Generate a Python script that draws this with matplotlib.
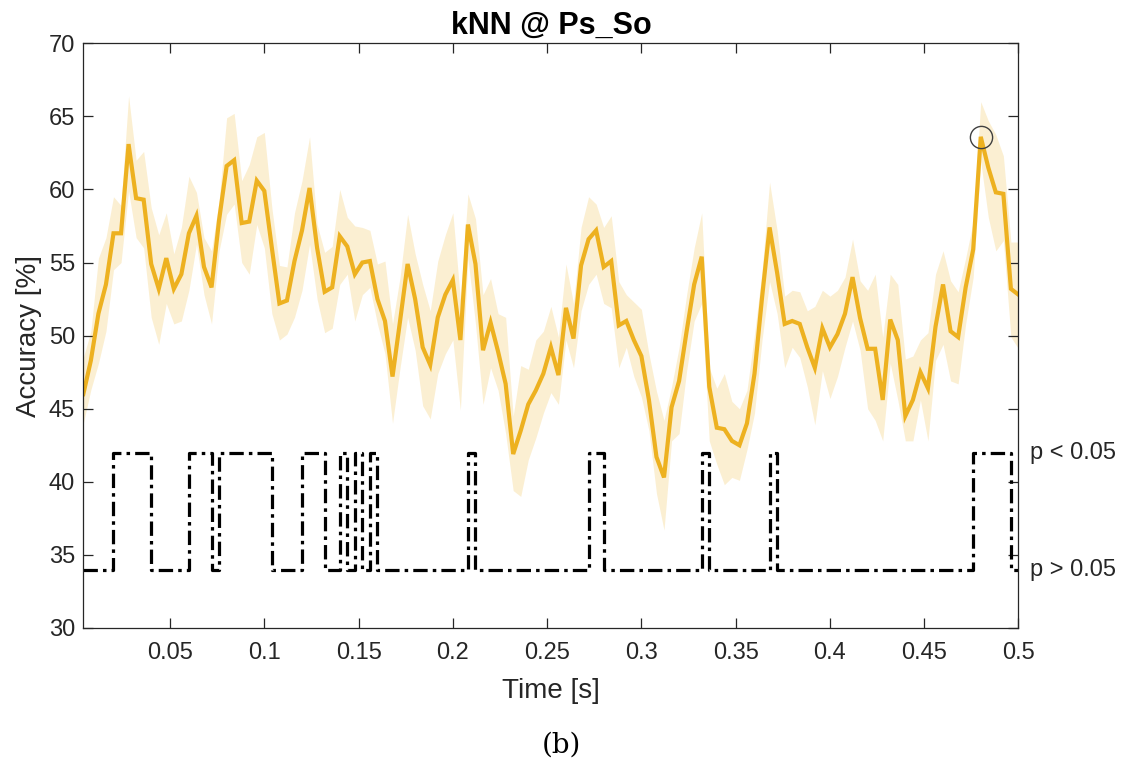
import numpy as np
import matplotlib
matplotlib.use("Agg")
import matplotlib.pyplot as plt

# ---------------- data ----------------
time_s = [0.004 * k for k in range(1, 126)]

acc_mean = [
    46.0, 48.3, 51.5, 53.5, 57.0, 57.0, 63.1, 59.4, 59.3, 54.9,
    53.2, 55.3, 53.2, 54.2, 57.0, 58.2, 54.7, 53.3, 57.9, 61.6,
    62.0, 57.7, 57.8, 60.6, 59.9, 56.0, 52.2, 52.4, 55.1, 57.2,
    60.1, 56.0, 53.0, 53.3, 56.8, 56.1, 54.2, 55.0, 55.1, 52.5,
    51.0, 47.2, 51.0, 54.9, 52.5, 49.2, 48.0, 51.25, 52.8, 53.8,
    49.7, 57.6, 54.9, 49.0, 50.9, 48.9, 46.7, 41.9, 43.5, 45.3,
    46.25, 47.4, 49.2, 47.3, 51.9, 49.8, 54.8, 56.6, 57.2, 54.7,
    55.1, 50.7, 51.0, 49.7, 48.6, 45.6, 41.7, 40.3, 45.1, 46.9,
    50.3, 53.5, 55.4, 46.5, 43.7, 43.6, 42.8, 42.5, 44.0, 47.4,
    52.6, 57.4, 54.3, 50.8, 51.0, 50.8, 49.2, 47.8, 50.5, 49.2,
    50.1, 51.5, 54.0, 51.2, 49.1, 49.1, 45.6, 51.1, 49.7, 44.5,
    45.6, 47.5, 46.4, 50.6, 53.5, 50.3, 49.9, 53.3, 55.9, 63.6,
    61.5, 59.8, 59.7, 53.2, 52.8,
]

acc_upper = [
    48.5, 50.3, 55.3, 56.7, 59.5, 58.9, 66.4, 62.0, 62.6, 58.75,
    56.9, 58.4, 55.6, 57.4, 60.9, 59.8, 56.7, 55.8, 59.2, 64.9,
    65.2, 60.6, 61.7, 63.6, 63.9, 58.75, 54.8, 54.7, 58.4, 60.6,
    63.6, 57.6, 55.7, 56.1, 60.0, 58.1, 57.5, 57.4, 57.2, 54.9,
    55.1, 50.8, 54.0, 58.3, 55.6, 53.5, 51.7, 55.1, 56.9, 58.4,
    52.5, 59.7, 58.0, 52.8, 53.9, 51.5, 51.25, 44.5, 47.95, 47.7,
    49.7, 50.3, 52.0, 49.9, 54.9, 52.2, 57.4, 59.5, 59.0, 57.4,
    58.2, 53.7, 52.8, 52.3, 51.8, 48.75, 46.2, 44.2, 46.5, 49.2,
    52.8, 56.0, 58.4, 47.8, 46.4, 47.4, 45.5, 45.0, 46.25, 50.1,
    54.4, 60.5, 57.2, 52.7, 53.1, 53.0, 51.7, 52.0, 53.1, 52.7,
    53.1, 54.0, 56.6, 53.75, 53.1, 54.2, 49.9, 54.2, 53.5, 48.4,
    48.6, 49.7, 50.2, 54.2, 55.8, 53.75, 53.0, 55.3, 57.8, 66.0,
    64.7, 63.75, 62.3, 56.4, 56.4,
]

acc_lower = [
    44.0, 46.3, 48.1, 50.3, 54.5, 55.0, 59.9, 56.7, 56.0, 51.25,
    49.4, 52.2, 50.8, 51.0, 53.1, 56.25, 52.8, 50.8, 55.8, 58.3,
    59.0, 55.0, 54.2, 57.6, 56.0, 51.5, 49.7, 50.1, 51.25, 53.1,
    56.25, 52.5, 50.2, 50.5, 53.5, 54.2, 51.0, 52.8, 53.3, 50.8,
    48.75, 44.0, 47.8, 51.25, 49.0, 45.2, 44.3, 47.4, 48.75, 49.7,
    44.9, 55.3, 50.8, 45.3, 47.8, 46.25, 43.3, 39.4, 39.0, 41.5,
    43.0, 44.7, 46.1, 45.3, 49.7, 47.8, 51.7, 53.5, 54.2, 52.2,
    51.9, 47.8, 49.2, 47.2, 45.8, 43.5, 39.2, 36.7, 42.8, 43.3,
    47.6, 51.0, 52.2, 42.8, 41.2, 39.8, 40.3, 40.1, 42.2, 44.7,
    49.7, 53.7, 51.5, 47.8, 49.2, 48.5, 46.5, 43.9, 47.6, 45.7,
    47.2, 49.2, 51.0, 49.0, 45.0, 44.2, 42.8, 48.1, 45.6, 42.8,
    42.8, 45.6, 42.8, 48.3, 49.4, 46.9, 46.7, 50.8, 54.0, 61.9,
    58.1, 55.8, 56.5, 49.9, 49.1,
]

# significant intervals (start, end) in seconds: p < 0.05
sig_intervals = [
    (0.020, 0.040), (0.060, 0.072), (0.076, 0.104), (0.120, 0.132),
    (0.140, 0.144), (0.148, 0.152), (0.156, 0.160), (0.208, 0.212),
    (0.272, 0.280), (0.332, 0.336), (0.368, 0.372), (0.476, 0.496),
]
sig_low_level = 34
sig_high_level = 42
sig_labels = ["p < 0.05", "p > 0.05"]

peak_time = 0.480
peak_value = 63.6

x_ticks = [0.05, 0.1, 0.15, 0.2, 0.25, 0.3, 0.35, 0.4, 0.45, 0.5]
x_tick_labels = ["0.05", "0.1", "0.15", "0.2", "0.25", "0.3", "0.35", "0.4", "0.45", "0.5"]
y_ticks = [30, 35, 40, 45, 50, 55, 60, 65, 70]

# ---------------- plot ----------------
plt.rcParams['font.family'] = ['Liberation Sans', 'DejaVu Sans']

t = np.array(time_s)
sig = np.zeros(len(t))
for a, b in sig_intervals:
    sig[(t >= a - 1e-9) & (t < b - 1e-9)] = 1
sig_level = np.where(sig > 0, sig_high_level, sig_low_level)

fig = plt.figure(figsize=(11.23, 7.71), dpi=100)
ax = fig.add_axes([0.0742, 0.1855, 0.8327, 0.7584])

orange = '#EDB120'
ax.fill_between(t, acc_lower, acc_upper, color=orange, alpha=0.2, linewidth=0)
ax.plot(t, acc_mean, color=orange, linewidth=3.0, solid_joinstyle='miter')
ax.step(t, sig_level, where='post', color='black', linewidth=2.3,
        linestyle=(0, (4.5, 1.6, 1.1, 1.6)))
ax.plot([peak_time], [peak_value], marker='o', markersize=16, markerfacecolor='none',
        markeredgecolor='#404040', markeredgewidth=1.0, linestyle='none')

ax.set_xlim(0.004, 0.5)
ax.set_ylim(30, 70)
ax.set_xticks(x_ticks)
ax.set_xticklabels(x_tick_labels)
ax.set_yticks(y_ticks)

dark = '#262626'
for s in ax.spines.values():
    s.set_color(dark)
    s.set_linewidth(0.9)
ax.tick_params(direction='in', length=7, width=0.9, colors=dark, labelsize=17,
               top=True, right=True)
ax.tick_params(axis='x', pad=10)
ax.tick_params(axis='y', pad=6)
for lab in ax.get_xticklabels() + ax.get_yticklabels():
    lab.set_color(dark)

ax.set_title("kNN @ Ps_So", fontsize=22, fontweight='bold', color='black', pad=7)
ax.set_xlabel("Time [s]", fontsize=20, color=dark, labelpad=10)
ax.set_ylabel("Accuracy [%]", fontsize=20, color=dark, labelpad=5)

trans = matplotlib.transforms.blended_transform_factory(ax.transAxes, ax.transData)
ax.text(1.012, sig_high_level, sig_labels[0], transform=trans, ha='left', va='center',
        fontsize=17, color=dark)
ax.text(1.012, sig_low_level, sig_labels[1], transform=trans, ha='left', va='center',
        fontsize=17, color=dark)

fig.text(0.4995, 0.034, "(b)", ha='center', va='center', fontsize=20,
         family=['DejaVu Serif'], color='black')

fig.savefig("out.png", dpi=100)
